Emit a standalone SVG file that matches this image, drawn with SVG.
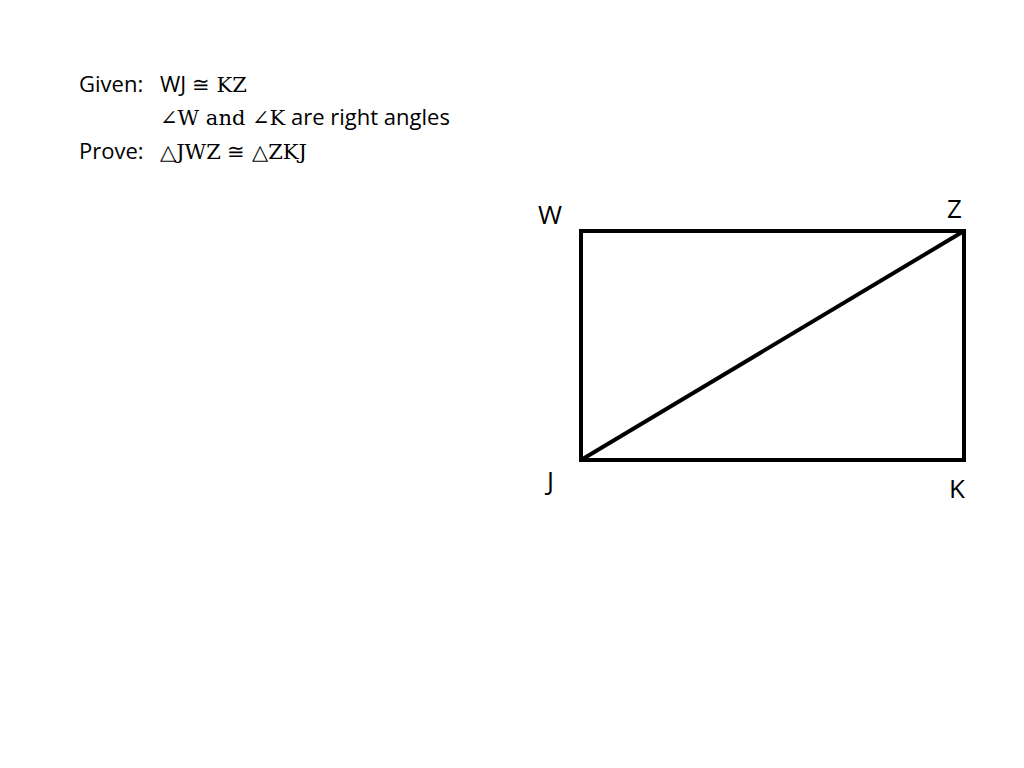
<svg xmlns="http://www.w3.org/2000/svg" width="1024" height="768" viewBox="0 0 1024 768">
<style>
.s{font-family:"Open Sans","Liberation Sans",sans-serif;font-size:22px;fill:#000}
.m{font-family:"DejaVu Serif","Liberation Serif",serif;font-size:21px;fill:#000}
.l{font-family:"Open Sans","Liberation Sans",sans-serif;font-size:26px;fill:#000}
.e{stroke:#000;stroke-width:4;fill:none}
</style>
<rect width="1024" height="768" fill="#fff"/>
<g id="text">
<text class="s" x="79" y="92">Given:</text>
<text x="160" y="92"><tspan class="s">WJ </tspan><tspan class="m">≅ KZ</tspan></text>
<text x="160" y="125"><tspan class="m">∠W and ∠K</tspan><tspan class="s"> are right angles</tspan></text>
<text class="s" x="79" y="159">Prove:</text>
<text class="m" x="160" y="159">△JWZ ≅ △ZKJ</text>
</g>
<g id="edges">
<rect class="e" x="581" y="231" width="383" height="229"/>
<line class="e" x1="581" y1="460" x2="964" y2="231"/>
</g>
<g id="W"><text class="l" x="538" y="224">W</text></g>
<g id="Z"><text class="l" x="947" y="218">Z</text></g>
<g id="J"><text class="l" x="547" y="490">J</text></g>
<g id="K"><text class="l" x="949" y="498">K</text></g>
</svg>
